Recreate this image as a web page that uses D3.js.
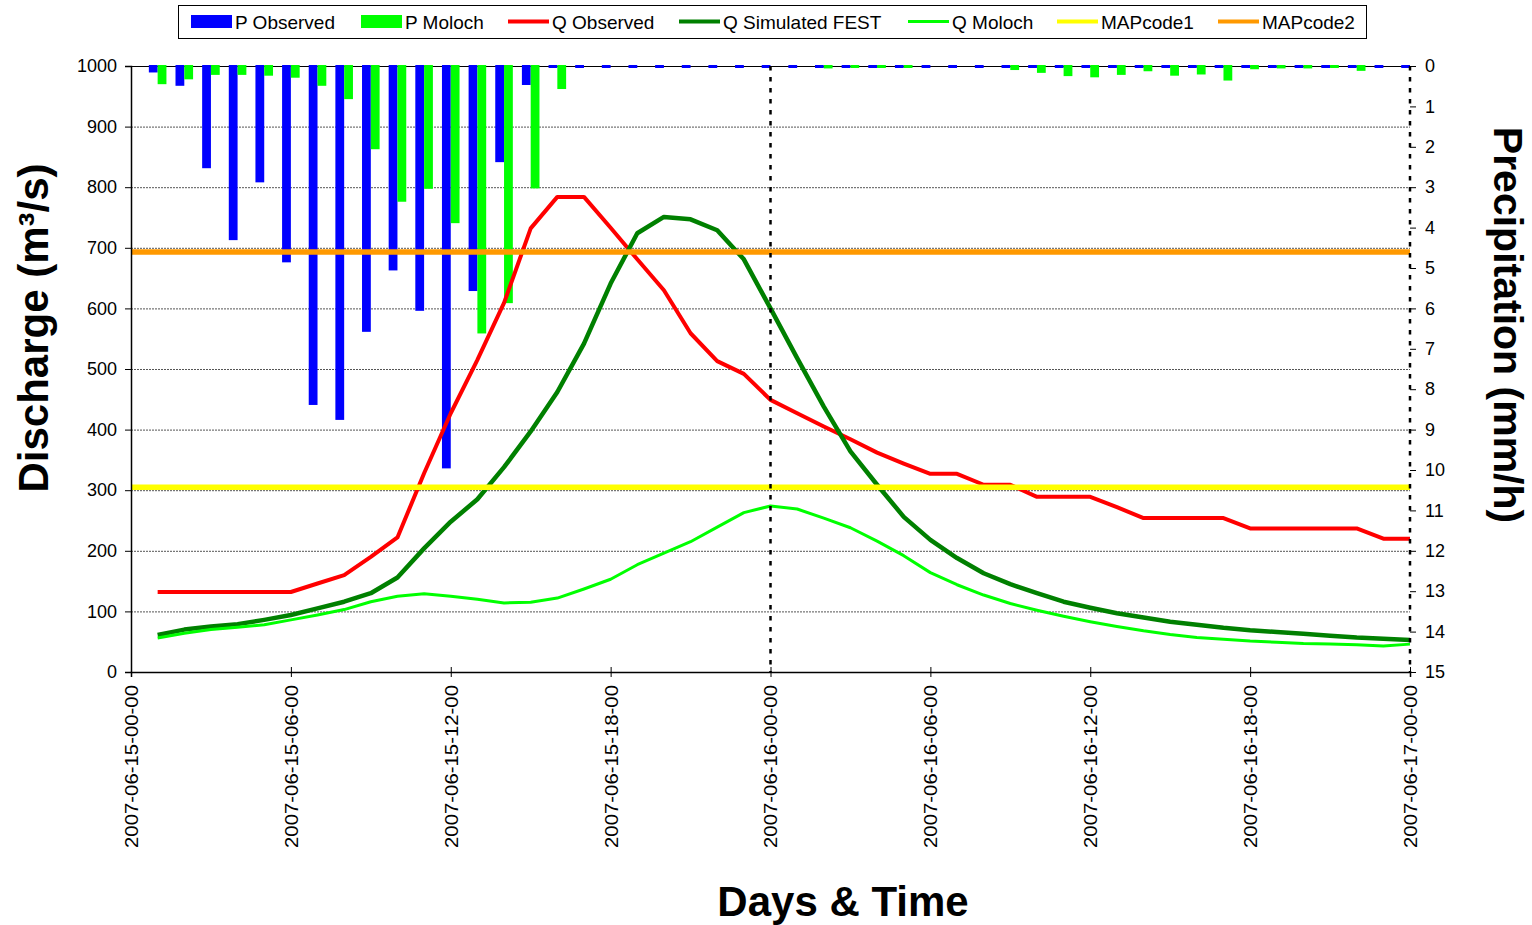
<!DOCTYPE html>
<html>
<head>
<meta charset="utf-8">
<script src="https://cdn.jsdelivr.net/npm/d3@7"></script>
<style>
  html, body { margin: 0; padding: 0; background: #fff; }
  svg { display: block; font-family: Arial, "Liberation Sans", sans-serif; }
</style>
</head>
<body>
<svg id="chart" width="1532" height="925"></svg>
<script>
// Hourly time steps (hours after 2007-06-15 00:00)
const hours = d3.range(1, 49);

// Precipitation (mm/h)
const pObserved = [0.16, 0.49, 2.53, 4.31, 2.88, 4.86, 8.39, 8.76, 6.58, 5.06, 6.06, 9.96,
  5.57, 2.38, 0.47, 0, 0, 0, 0, 0, 0, 0, 0, 0,
  0, 0, 0, 0, 0, 0, 0, 0, 0, 0, 0, 0,
  0, 0, 0, 0, 0, 0, 0, 0, 0, 0, 0, 0];
const pMoloch = [0.45, 0.33, 0.22, 0.22, 0.24, 0.29, 0.49, 0.82, 2.06, 3.36, 3.04, 3.89,
  6.62, 5.87, 3.03, 0.57, 0, 0, 0, 0, 0, 0, 0, 0,
  0, 0.06, 0.04, 0.04, 0.04, 0, 0, 0, 0.10, 0.17, 0.25, 0.28,
  0.22, 0.13, 0.24, 0.21, 0.36, 0.08, 0.06, 0.06, 0.04, 0.12, 0, 0];

// Discharge (m3/s)
const qObserved = [132, 132, 132, 132, 132, 132, 146, 160, 190, 222, 328, 427,
  515, 609, 732, 784, 784, 733, 681, 630, 559, 513, 492, 449,
  427, 405, 384, 362, 344, 327, 327, 309, 309, 289, 289, 289,
  272, 254, 254, 254, 254, 237, 237, 237, 237, 237, 220, 220];
const qFest = [61, 70, 75, 79, 86, 94, 105, 116, 130, 156, 204, 248,
  285, 338, 397, 462, 542, 641, 724, 751, 747, 729, 681, 600,
  518, 438, 364, 309, 256, 218, 188, 163, 145, 130, 116, 106,
  97, 90, 83, 78, 73, 69, 66, 63, 60, 57, 55, 53];
const qMoloch = [56, 64, 70, 74, 78, 86, 94, 103, 116, 125, 129, 125,
  120, 114, 115, 122, 137, 153, 177, 196, 215, 239, 263, 274,
  269, 254, 238, 216, 192, 164, 144, 127, 113, 102, 92, 83,
  75, 68, 62, 57, 54, 51, 49, 47, 46, 45, 43, 46];

// Warning thresholds (m3/s)
const mapCode1 = 305;
const mapCode2 = 693;

// Axis ticks
const xTickHours = [0, 6, 12, 18, 24, 30, 36, 42, 48];
const xTickLabels = ["2007-06-15-00-00", "2007-06-15-06-00", "2007-06-15-12-00", "2007-06-15-18-00",
  "2007-06-16-00-00", "2007-06-16-06-00", "2007-06-16-12-00", "2007-06-16-18-00", "2007-06-17-00-00"];
const qTicks = d3.range(0, 1001, 100);
const pTicks = d3.range(0, 16, 1);
const dayMarks = [24, 48];

const legendItems = [
  { name: "P Observed", color: "#0000FF", kind: "bar", x: 191 },
  { name: "P Moloch", color: "#00FF00", kind: "bar", x: 361 },
  { name: "Q Observed", color: "#FF0000", kind: "line", x: 508, w: 4 },
  { name: "Q Simulated FEST", color: "#008000", kind: "line", x: 679, w: 4 },
  { name: "Q Moloch", color: "#00FF00", kind: "line", x: 908, w: 3 },
  { name: "MAPcode1", color: "#FFFF00", kind: "line", x: 1057, w: 4 },
  { name: "MAPcode2", color: "#FF9900", kind: "line", x: 1218, w: 4 }
];

const svg = d3.select("#chart");
const L = 131, R = 1410, T = 66, B = 672;
const FONT = "Arial, 'Liberation Sans', sans-serif";

const x = d3.scaleLinear().domain([0, 48]).range([L, R]);
const yQ = d3.scaleLinear().domain([0, 1000]).range([B, T]);
const yP = d3.scaleLinear().domain([0, 15]).range([T, B]);

// Horizontal gridlines
svg.append("g").selectAll("line")
  .data(qTicks.filter(d => d > 0 && d < 1000))
  .join("line")
  .attr("x1", L).attr("x2", R)
  .attr("y1", d => yQ(d) + 0.5).attr("y2", d => yQ(d) + 0.5)
  .attr("stroke", "#555").attr("stroke-width", 1).attr("stroke-dasharray", "2,1");

// Top frame line
svg.append("line").attr("x1", L).attr("x2", R).attr("y1", T + 0.5).attr("y2", T + 0.5)
  .attr("stroke", "#000").attr("stroke-width", 1.2);

// Precipitation bars hanging from the top
const barW = (x(1) - x(0)) * 0.33;
const bars = svg.append("g");
bars.selectAll("rect.pobs")
  .data(hours.map((h, i) => ({ h, v: pObserved[i] })))
  .join("rect")
  .attr("class", "pobs")
  .attr("x", d => x(d.h) - barW)
  .attr("y", yP(0) - 1)
  .attr("width", barW)
  .attr("height", d => Math.max(yP(d.v) - yP(0) + 1, 3))
  .attr("fill", "#0000FF");
bars.selectAll("rect.pmol")
  .data(hours.map((h, i) => ({ h, v: pMoloch[i] })).filter(d => d.v > 0))
  .join("rect")
  .attr("class", "pmol")
  .attr("x", d => x(d.h))
  .attr("y", yP(0) - 1)
  .attr("width", barW)
  .attr("height", d => Math.max(yP(d.v) - yP(0) + 1, 3))
  .attr("fill", "#00FF00");

// Discharge lines
const line = d3.line().x((d, i) => x(hours[i])).y(d => yQ(d));
const series = [
  { data: qObserved, color: "#FF0000", w: 4 },
  { data: qFest, color: "#008000", w: 4.5 },
  { data: qMoloch, color: "#00FF00", w: 3 }
];
series.forEach(s => {
  svg.append("path")
    .attr("d", line(s.data))
    .attr("fill", "none")
    .attr("stroke", s.color)
    .attr("stroke-width", s.w)
    .attr("stroke-linejoin", "round");
});

// Threshold lines
[[mapCode1, "#FFFF00"], [mapCode2, "#FF9900"]].forEach(([v, c]) => {
  svg.append("line")
    .attr("x1", L).attr("x2", R)
    .attr("y1", yQ(v)).attr("y2", yQ(v))
    .attr("stroke", c).attr("stroke-width", 5.5);
});

// Left axis (discharge)
const axL = svg.append("g")
  .attr("transform", `translate(${L},0)`)
  .call(d3.axisLeft(yQ).tickValues(qTicks).tickFormat(d3.format("d")).tickSize(6).tickPadding(8));
axL.select(".domain").attr("stroke", "#000").attr("stroke-width", 1.5);
axL.selectAll(".tick line").attr("stroke", "#000");
axL.selectAll("text").attr("font-size", 18).attr("font-family", FONT).attr("fill", "#000");

// Right axis (precipitation)
const axR = svg.append("g")
  .attr("transform", `translate(${R},0)`)
  .call(d3.axisRight(yP).tickValues(pTicks).tickFormat(d3.format("d")).tickSize(6).tickPadding(9));
axR.select(".domain").remove();
axR.selectAll(".tick line").attr("stroke", "#000");
axR.selectAll("text").attr("font-size", 18).attr("font-family", FONT).attr("fill", "#000");

// Bottom axis (time)
const axB = svg.append("g")
  .attr("transform", `translate(0,${B})`)
  .call(d3.axisBottom(x).tickValues(xTickHours).tickFormat((d, i) => xTickLabels[i]).tickSize(5).tickPadding(0));
axB.select(".domain").attr("stroke", "#000").attr("stroke-width", 1.5);
axB.selectAll(".tick line").attr("y1", -5).attr("y2", 5).attr("stroke", "#000");
axB.selectAll("text")
  .attr("font-size", 18)
  .attr("font-family", FONT)
  .attr("fill", "#000")
  .attr("transform", "rotate(-90)")
  .attr("x", -13).attr("y", 0).attr("dy", "0.36em")
  .attr("textLength", 163).attr("lengthAdjust", "spacingAndGlyphs")
  .style("text-anchor", "end");

// Day separators
svg.append("g").selectAll("line")
  .data(dayMarks)
  .join("line")
  .attr("x1", d => x(d)).attr("x2", d => x(d))
  .attr("y1", T).attr("y2", B)
  .attr("stroke", "#000").attr("stroke-width", 2.5).attr("stroke-dasharray", "4.5,6.5");

// Axis titles
svg.append("text")
  .attr("transform", "translate(33,328) rotate(-90)")
  .attr("text-anchor", "middle").attr("dominant-baseline", "central")
  .attr("font-size", 42).attr("font-weight", "bold")
  .text("Discharge (m³/s)");
svg.append("text")
  .attr("transform", "translate(1508,325) rotate(90)")
  .attr("text-anchor", "middle").attr("dominant-baseline", "central")
  .attr("font-size", 41).attr("font-weight", "bold")
  .text("Precipitation (mm/h)");
svg.append("text")
  .attr("x", 843).attr("y", 916)
  .attr("text-anchor", "middle")
  .attr("font-size", 42).attr("font-weight", "bold")
  .text("Days & Time");

// Legend
const lg = svg.append("g");
lg.append("rect").attr("x", 178.5).attr("y", 5.5).attr("width", 1188).attr("height", 33)
  .attr("fill", "#fff").attr("stroke", "#000").attr("stroke-width", 1);
legendItems.forEach(it => {
  if (it.kind === "bar") {
    lg.append("rect").attr("x", it.x).attr("y", 15).attr("width", 41).attr("height", 13).attr("fill", it.color);
  } else {
    lg.append("line").attr("x1", it.x).attr("x2", it.x + 41).attr("y1", 21.5).attr("y2", 21.5)
      .attr("stroke", it.color).attr("stroke-width", it.w);
  }
  lg.append("text").attr("x", it.x + 44).attr("y", 28.5)
    .attr("font-size", 19).attr("fill", "#000").text(it.name);
});
</script>
</body>
</html>
